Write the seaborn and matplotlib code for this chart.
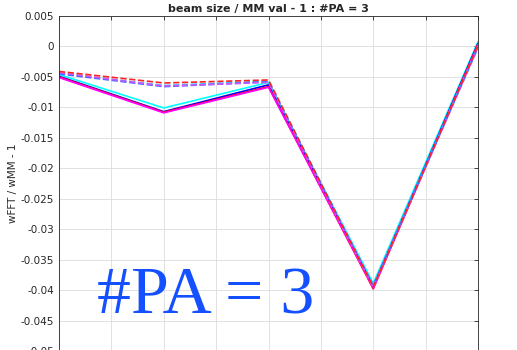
import matplotlib
matplotlib.use("Agg")
import matplotlib.pyplot as plt
import seaborn as sns
import pandas as pd

sns.set_style("white")
plt.rcParams['font.family'] = ['DejaVu Sans']

x_pos = [1, 3, 5, 7, 9]
solid_red = [-0.0050, -0.0108, -0.0066, -0.0398, 0.0004]
solid_blue = [-0.0049, -0.0107, -0.0063, -0.0394, 0.0005]
solid_cyan = [-0.0046, -0.0101, -0.0059, -0.0389, 0.0008]
solid_magenta = [-0.0051, -0.0109, -0.0067, -0.0397, 0.0003]
dash_red = [-0.0041, -0.0060, -0.0055, -0.0395, 0.0002]
dash_blue = [-0.0045, -0.0066, -0.0058, -0.0393, -0.0002]
dash_cyan = [-0.0044, -0.0064, -0.0057, -0.0391, 0.0000]
dash_magenta = [-0.0043, -0.0065, -0.0059, -0.0396, -0.0001]

series = [
    ("solid cyan", solid_cyan, "#00ffff", "-"),
    ("solid blue", solid_blue, "#0000ff", "-"),
    ("solid red", solid_red, "#ff0000", "-"),
    ("solid magenta", solid_magenta, "#ff00ff", "-"),
    ("dash cyan", dash_cyan, "#33ccff", "--"),
    ("dash blue", dash_blue, "#4466ff", "--"),
    ("dash magenta", dash_magenta, "#cc55ff", "--"),
    ("dash red", dash_red, "#ff2222", "--"),
]

fig = plt.figure(figsize=(5.17, 3.5), dpi=100)
ax = fig.add_axes([59/517, -1/350, 419/517, 335/350])

for name, vals, col, ls in series:
    df = pd.DataFrame({"x": x_pos, "y": vals})
    sns.lineplot(data=df, x="x", y="y", ax=ax, color=col, linestyle=ls, linewidth=1.2)

ax.set_xlim(1, 9)
ax.set_ylim(-0.05, 0.005)
ax.set_xticks(range(1, 10))
ax.set_xticklabels([])
yt = [0.005, 0, -0.005, -0.01, -0.015, -0.02, -0.025, -0.03, -0.035, -0.04, -0.045, -0.05]
ax.set_yticks(yt)
ax.set_yticklabels([("%g" % v) for v in yt], fontsize=7.5, color="#262626")
ax.tick_params(direction="in", length=3, top=True, right=True, width=0.6, color="#262626")
ax.grid(True, color="#dcdcdc", linewidth=0.6)
for s in ax.spines.values():
    s.set_color("#262626")
    s.set_linewidth(0.6)
ax.set_xlabel("")
ax.set_ylabel("wFFT / wMM - 1", fontsize=7.5, color="#262626", labelpad=2)
ax.set_title("beam size / MM val - 1 : #PA = 3", fontsize=8, fontweight="bold", pad=3)
ax.text(97/517, (350-313)/350, "#PA = 3", transform=fig.transFigure,
        fontsize=49, color="#1450ff", family="Liberation Serif", va="baseline", ha="left")

fig.savefig("out.png", dpi=100)
